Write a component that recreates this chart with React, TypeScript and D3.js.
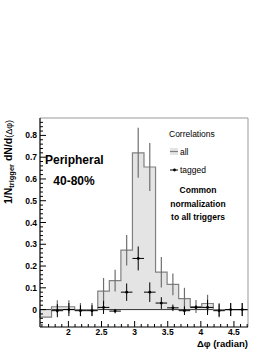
import * as d3 from "d3";
import React from "react";

// histogram of all correlations, 18 bins over [pi/2, 3pi/2]
const allValues = [-0.035, 0.013, 0.013, 0, 0, 0.085, 0.133, 0.273, 0.72, 0.655, 0.172, 0.116, 0.05, 0.014, 0.028, 0, 0, 0];
const allErrors = [0, 0.03, 0.03, 0.03, 0.03, 0.06, 0.05, 0.07, 0.115, 0.11, 0.07, 0.05, 0.05, 0.03, 0.04, 0.03, 0.03, 0.03];

// tagged correlations (null = no point)
const taggedValues: (number | null)[] = [null, -0.005, 0.0, -0.005, -0.005, 0.01, -0.007, 0.08, 0.235, 0.08, 0.03, 0.008, -0.005, 0.01, 0.01, -0.005, 0, 0];
const taggedErrors = [0, 0.03, 0.03, 0.025, 0.025, 0.03, 0.01, 0.04, 0.055, 0.045, 0.027, 0.015, 0.02, 0.01, 0.035, 0.03, 0.03, 0.03];

const xTicks = [2, 2.5, 3, 3.5, 4, 4.5];
const yTicks = [0, 0.1, 0.2, 0.3, 0.4, 0.5, 0.6, 0.7, 0.8];

const FONT = "'Liberation Sans', Arial, Helvetica, sans-serif";

export default function App() {
  const width = 274;
  const height = 355;
  const left = 40;
  const right = 248;
  const top = 118;
  const bottom = 327;

  const x = d3.scaleLinear().domain([Math.PI / 2, (3 * Math.PI) / 2]).range([left, right]);
  const y = d3.scaleLinear().domain([-0.08, 0.88]).range([bottom, top]);

  const nBins = allValues.length;
  const binW = Math.PI / nBins;
  const edge = (i: number) => Math.PI / 2 + i * binW;
  const center = (i: number) => Math.PI / 2 + (i + 0.5) * binW;

  // step outline
  const pts: [number, number][] = [[x(edge(0)), y(0)]];
  allValues.forEach((v, i) => {
    pts.push([x(edge(i)), y(v)]);
    pts.push([x(edge(i + 1)), y(v)]);
  });
  pts.push([x(edge(nBins)), y(0)]);
  const stepPath = d3.line()(pts) ?? "";

  const xMinor = d3.range(16, 48).map((d) => d / 10);
  const yMinor = d3.range(-3, 44).map((d) => d / 50);

  return (
    <svg
      width={width}
      height={height}
      style={{ position: "absolute", left: 0, top: 0, background: "#fff" }}
      fontFamily={FONT}
    >
      {/* histogram fill + outline */}
      <path d={stepPath} fill="#e4e4e4" stroke="none" />
      <line x1={left} x2={right} y1={y(0)} y2={y(0)} stroke="#333" strokeWidth={1} />
      <path d={stepPath} fill="none" stroke="#808080" strokeWidth={1.2} />

      {/* all error bars */}
      {allValues.map((v, i) =>
        allErrors[i] > 0 ? (
          <line
            key={`ae${i}`}
            x1={x(center(i))}
            x2={x(center(i))}
            y1={y(v - allErrors[i])}
            y2={y(v + allErrors[i])}
            stroke="#6f6f6f"
            strokeWidth={1.2}
          />
        ) : null
      )}

      {/* tagged points */}
      {taggedValues.map((v, i) =>
        v === null ? null : (
          <g key={`t${i}`} stroke="#000" strokeWidth={1}>
            <line x1={x(edge(i))} x2={x(edge(i + 1))} y1={y(v)} y2={y(v)} />
            <line x1={x(center(i))} x2={x(center(i))} y1={y(v - taggedErrors[i])} y2={y(v + taggedErrors[i])} />
            <circle cx={x(center(i))} cy={y(v)} r={1.4} fill="#000" stroke="none" />
          </g>
        )
      )}

      {/* frame */}
      <line x1={left} x2={right} y1={top} y2={top} stroke="#999" strokeWidth={1} />
      <line x1={right} x2={right} y1={top} y2={bottom} stroke="#999" strokeWidth={1} />
      <line x1={left} x2={left} y1={top} y2={bottom} stroke="#000" strokeWidth={1.2} />
      <line x1={left} x2={right} y1={bottom} y2={bottom} stroke="#000" strokeWidth={1.2} />

      {/* x ticks */}
      {xMinor.map((t) => {
        const major = xTicks.some((m) => Math.abs(m - t) < 1e-6);
        return (
          <line key={`xm${t}`} x1={x(t)} x2={x(t)} y1={bottom} y2={bottom - (major ? 6 : 3)} stroke="#000" strokeWidth={1} />
        );
      })}
      {xTicks.map((t) => (
        <text key={`xl${t}`} x={x(t)} y={bottom + 8} textAnchor="middle" fontSize={8.5} fontWeight="bold">
          {t}
        </text>
      ))}

      {/* y ticks */}
      {yMinor.map((t) => {
        const major = yTicks.some((m) => Math.abs(m - t) < 1e-6);
        return (
          <line key={`ym${t}`} x1={left} x2={left + (major ? 6 : 3)} y1={y(t)} y2={y(t)} stroke="#000" strokeWidth={1} />
        );
      })}
      {yTicks.map((t) => (
        <text key={`yl${t}`} x={37} y={y(t) + 3} textAnchor="end" fontSize={8.5} fontWeight="bold">
          {t}
        </text>
      ))}

      {/* axis titles */}
      <text x={right} y={347} textAnchor="end" fontSize={9.5} fontWeight="bold">
        Δφ (radian)
      </text>
      <text transform="translate(12,162) rotate(-90)" textAnchor="middle" fontSize={10.5} fontWeight="bold">
        1/N<tspan fontSize={7.5} dy={2}>trigger</tspan>
        <tspan dy={-2}> dN/d</tspan>
        <tspan fontWeight="normal" fontSize={9}>(Δφ)</tspan>
      </text>

      {/* centrality label */}
      <text x={45} y={164} fontSize={12} fontWeight="bold">
        Peripheral
      </text>
      <text x={74} y={185} textAnchor="middle" fontSize={12} fontWeight="bold">
        40-80%
      </text>

      {/* legend */}
      <text x={169} y={137} fontSize={8.5}>
        Correlations
      </text>
      <rect x={170} y={148} width={8} height={7} fill="#e4e4e4" />
      <line x1={170} x2={178} y1={151.5} y2={151.5} stroke="#808080" strokeWidth={1.2} />
      <text x={180} y={155} fontSize={8.5}>
        all
      </text>
      <line x1={170} x2={178} y1={170} y2={170} stroke="#000" strokeWidth={1} />
      <circle cx={174.5} cy={170} r={1.4} fill="#000" />
      <text x={180} y={173} fontSize={8.5}>
        tagged
      </text>

      <text x={198} y={193} textAnchor="middle" fontSize={8.5} fontWeight="bold">
        Common
      </text>
      <text x={198} y={207} textAnchor="middle" fontSize={8.5} fontWeight="bold">
        normalization
      </text>
      <text x={198} y={220} textAnchor="middle" fontSize={8.5} fontWeight="bold">
        to all triggers
      </text>
    </svg>
  );
}
